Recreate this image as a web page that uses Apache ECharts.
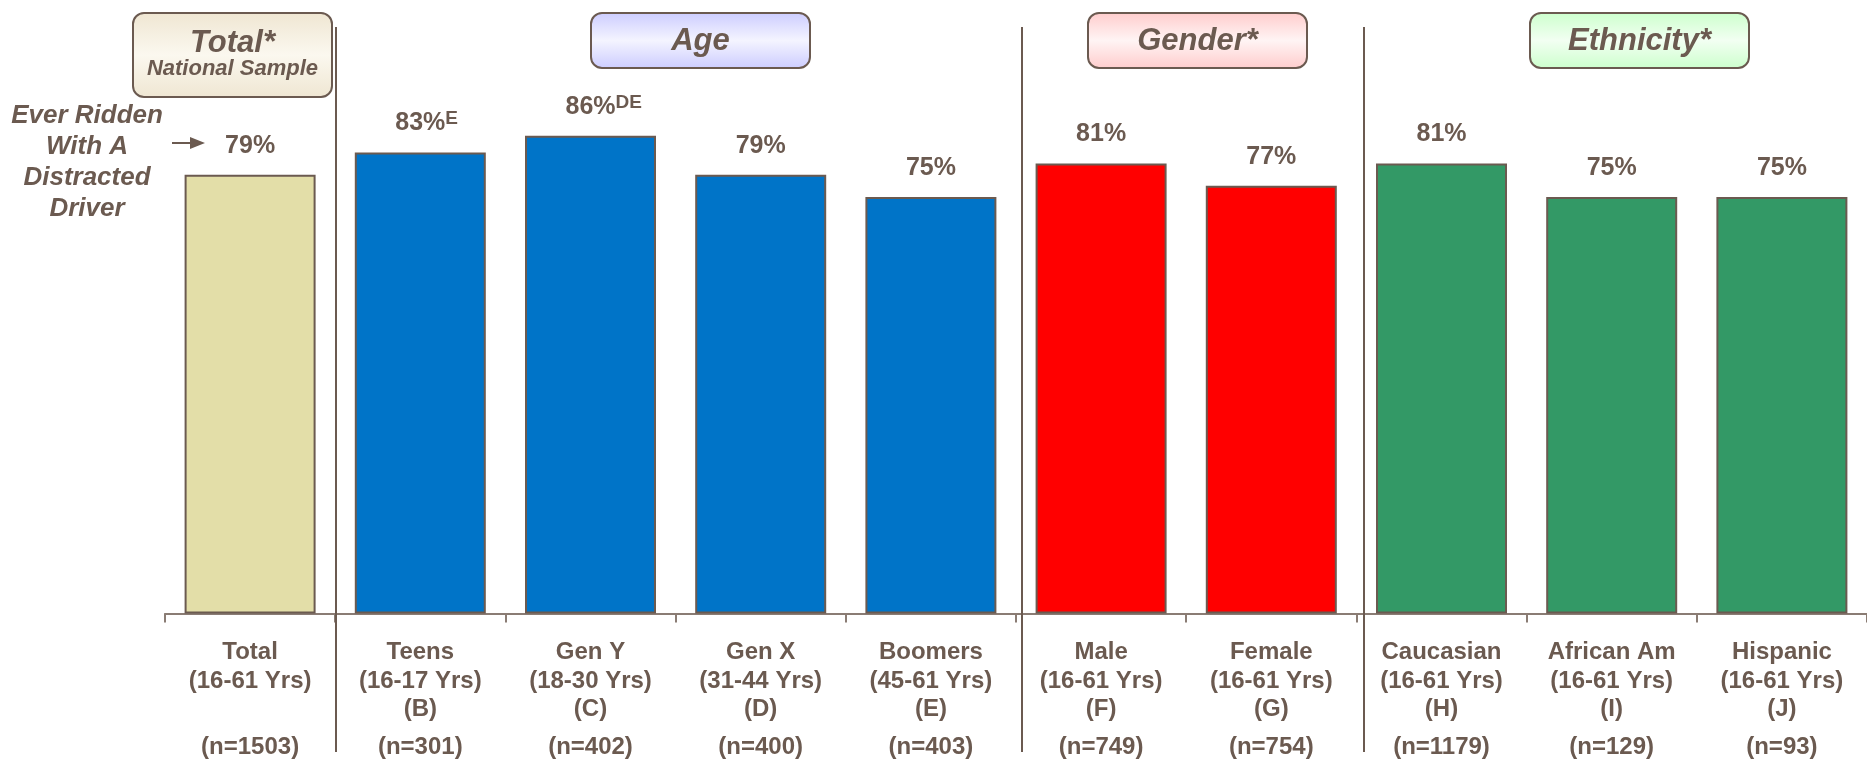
<!DOCTYPE html>
<html>
<head>
<meta charset="utf-8">
<script src="https://cdn.jsdelivr.net/npm/echarts@6/dist/echarts.min.js"></script>
<style>
  html, body { margin: 0; padding: 0; background: #fff; }
  #main { width: 1867px; height: 759px; }
</style>
</head>
<body>
<div id="main"></div>
<script>
// data
const categories = ['Total', 'Teens', 'Gen Y', 'Gen X', 'Boomers', 'Male', 'Female', 'Caucasian', 'African Am', 'Hispanic'];
const ageRanges = ['(16-61 Yrs)', '(16-17 Yrs)', '(18-30 Yrs)', '(31-44 Yrs)', '(45-61 Yrs)', '(16-61 Yrs)', '(16-61 Yrs)', '(16-61 Yrs)', '(16-61 Yrs)', '(16-61 Yrs)'];
const letters = ['', '(B)', '(C)', '(D)', '(E)', '(F)', '(G)', '(H)', '(I)', '(J)'];
const sampleSizes = ['(n=1503)', '(n=301)', '(n=402)', '(n=400)', '(n=403)', '(n=749)', '(n=754)', '(n=1179)', '(n=129)', '(n=93)'];
const groups = ['Total', 'Age', 'Age', 'Age', 'Age', 'Gender', 'Gender', 'Ethnicity', 'Ethnicity', 'Ethnicity'];
const values = [79, 83, 86, 79, 75, 81, 77, 81, 75, 75];
const superscripts = ['', 'E', 'DE', '', '', '', '', '', '', ''];

const TXT = '#6b5a50';
const FONT = 'Liberation Sans, Arial, Helvetica, sans-serif';
const groupColors = { Total: '#e3dea8', Age: '#0074c8', Gender: '#ff0000', Ethnicity: '#339966' };

// grid layout
const gLeft = 165, gTop = 58, gWidth = 1713, gHeight = 556;
const band = gWidth / categories.length;

let myChart = echarts.init(document.getElementById('main'));

// header boxes
function headerBox(x, w, h, c0, c1, lines) {
  const els = [{
    type: 'rect',
    shape: { x: x, y: 13, width: w, height: h, r: 11 },
    style: {
      fill: new echarts.graphic.LinearGradient(0, 0, 0, 1, [
        { offset: 0, color: c0 }, { offset: 0.5, color: c1 }, { offset: 1, color: c0 }
      ]),
      stroke: TXT, lineWidth: 2
    }
  }];
  lines.forEach(function (l) {
    els.push({
      type: 'text',
      style: {
        text: l.text, x: x + w / 2, y: l.y, align: 'center', verticalAlign: 'middle',
        fill: TXT, font: 'italic bold ' + l.size + 'px ' + FONT
      }
    });
  });
  return els;
}

let graphics = [];
graphics = graphics.concat(headerBox(133, 199, 84, '#efe6d2', '#fbf8ef', [
  { text: 'Total*', y: 43, size: 31 }, { text: 'National Sample', y: 69, size: 22 }
]));
graphics = graphics.concat(headerBox(591, 219, 55, '#ccccff', '#f4f4ff', [{ text: 'Age', y: 41, size: 31 }]));
graphics = graphics.concat(headerBox(1088, 219, 55, '#ffcccc', '#fff4f4', [{ text: 'Gender*', y: 41, size: 31 }]));
graphics = graphics.concat(headerBox(1530, 219, 55, '#ccffcc', '#f2fff2', [{ text: 'Ethnicity*', y: 41, size: 31 }]));

// group separators
[1, 5, 7].forEach(function (k) {
  const x = Math.round(gLeft + band * k);
  graphics.push({
    type: 'line', z: 10,
    shape: { x1: x, y1: 27, x2: x, y2: 752 },
    style: { stroke: TXT, lineWidth: 2 }
  });
});

// left side note and arrow
graphics.push({
  type: 'text',
  style: {
    text: 'Ever Ridden\nWith A\nDistracted\nDriver', x: 87, y: 100, align: 'center',
    lineHeight: 31, fill: TXT, font: 'italic bold 26px ' + FONT
  }
});
graphics.push({ type: 'line', shape: { x1: 172, y1: 143, x2: 194, y2: 143 }, style: { stroke: TXT, lineWidth: 2 } });
graphics.push({ type: 'polygon', shape: { points: [[190, 137], [205, 143], [190, 149]] }, style: { fill: TXT } });

const option = {
  animation: false,
  backgroundColor: '#fff',
  textStyle: { fontFamily: FONT },
  grid: { left: gLeft, top: gTop, width: gWidth, height: gHeight },
  xAxis: {
    type: 'category',
    data: categories,
    axisLine: { show: true, lineStyle: { color: '#8a7c74', width: 2 } },
    axisTick: { show: true, length: 9, lineStyle: { color: '#8a7c74', width: 2 } },
    axisLabel: {
      interval: 0,
      margin: 25,
      formatter: function (val, idx) {
        return '{a|' + categories[idx] + '}\n{a|' + ageRanges[idx] + '}\n{a|' + (letters[idx] || ' ') + '}\n{n|' + sampleSizes[idx] + '}';
      },
      rich: {
        a: { fontSize: 24, fontWeight: 'bold', color: TXT, lineHeight: 28.5, fontFamily: FONT },
        n: { fontSize: 24, fontWeight: 'bold', color: TXT, lineHeight: 46, fontFamily: FONT }
      }
    }
  },
  yAxis: { type: 'value', min: 0, max: 100, show: false, splitLine: { show: false } },
  series: [{
    type: 'bar',
    barWidth: 131,
    data: values.map(function (v, i) {
      return { value: v, itemStyle: { color: groupColors[groups[i]] } };
    }),
    itemStyle: { borderColor: TXT, borderWidth: 2 },
    label: {
      show: true,
      position: 'top',
      distance: 15,
      formatter: function (p) {
        const s = superscripts[p.dataIndex];
        const v = p.value + '%';
        return s ? '{g|' + s + '}{v|' + v + '}{s|' + s + '}' : '{v|' + v + '}';
      },
      rich: {
        v: { fontSize: 25, fontWeight: 'bold', color: TXT, lineHeight: 28, fontFamily: FONT },
        s: { fontSize: 19, fontWeight: 'bold', color: TXT, lineHeight: 14, verticalAlign: 'top', fontFamily: FONT },
        g: { fontSize: 19, fontWeight: 'bold', color: 'rgba(0,0,0,0)', lineHeight: 14, verticalAlign: 'top', fontFamily: FONT }
      }
    }
  }],
  graphic: graphics
};

myChart.setOption(option);
window.onresize = function () {
  myChart.resize();
};
</script>
</body>
</html>
